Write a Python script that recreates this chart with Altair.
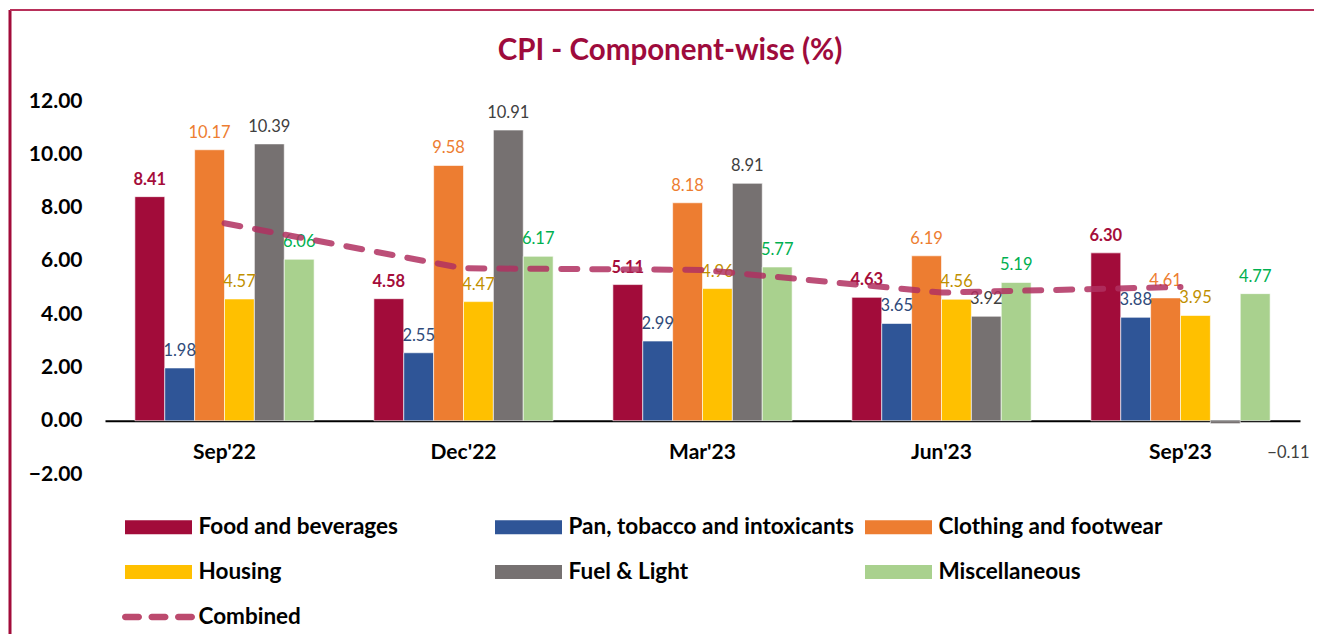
import altair as alt
import pandas as pd

FONT = "Lato"

quarters = ["Sep'22", "Dec'22", "Mar'23", "Jun'23", "Sep'23"]
series = ["Food and beverages", "Pan, tobacco and intoxicants", "Clothing and footwear",
          "Housing", "Fuel & Light", "Miscellaneous"]
combined_name = "Combined"
title_text = "CPI - Component-wise (%)"

food = [8.41, 4.58, 5.11, 4.63, 6.30]
pan = [1.98, 2.55, 2.99, 3.65, 3.88]
clothing = [10.17, 9.58, 8.18, 6.19, 4.61]
housing = [4.57, 4.47, 4.96, 4.56, 3.95]
fuel = [10.39, 10.91, 8.91, 3.92, -0.11]
misc = [6.06, 6.17, 5.77, 5.19, 4.77]
combined = [7.41, 5.72, 5.66, 4.81, 5.02]

bar_colors = ["#A20C3A", "#2F5597", "#ED7D31", "#FFC000", "#767171", "#A9D18E"]
label_colors = ["#A50D3A", "#2F4A7A", "#ED7D31", "#BF9000", "#404040", "#00B050"]
combined_color = "#BC4A6E"

y_ticks = [-2, 0, 2, 4, 6, 8, 10, 12]

values_by_series = [food, pan, clothing, housing, fuel, misc]
rows = []
for s, vals in zip(series, values_by_series):
    for q, v in zip(quarters, vals):
        rows.append({"quarter": q, "series": s, "value": v})
bars_df = pd.DataFrame(rows)
line_df = pd.DataFrame({"quarter": quarters, "value": combined})
legend_df = pd.DataFrame({"series": series + [combined_name]})

# legend symbol shapes (unit paths, scaled by sqrt(symbolSize)/2)
rect_path = "M-1.675,-0.35H1.675V0.35H-1.675Z"
def pill(a, b):
    r = 0.165
    return (f"M{a+r},-{r}H{b-r}A{r},{r} 0 0 1 {b-r},{r}"
            f"H{a+r}A{r},{r} 0 0 1 {a+r},-{r}Z")
dash_path = pill(-1.825, -0.825) + pill(-0.5, 0.5) + pill(0.825, 1.825)

x_scale = alt.Scale(domain=quarters, paddingInner=0.25, paddingOuter=0.125)
y_scale = alt.Scale(domain=[-2, 12], nice=False, zero=False)
fill_scale = alt.Scale(domain=series, range=bar_colors)
color_scale = alt.Scale(domain=series + [combined_name], range=bar_colors + [combined_color])
shape_scale = alt.Scale(domain=series + [combined_name], range=[rect_path] * 6 + [dash_path])

x_enc = alt.X("quarter:N", sort=quarters, scale=x_scale,
              axis=alt.Axis(title=None, orient="bottom", offset=-53.3, labelAngle=0,
                            labelFont=FONT, labelFontSize=21, labelFontWeight="bold",
                            labelColor="black", labelPadding=21, ticks=False,
                            domainColor="black", domainWidth=2))
y_enc = alt.Y("value:Q", scale=y_scale,
              axis=alt.Axis(title=None, values=y_ticks, format=".2f", grid=False,
                            domain=False, ticks=False, labelFont=FONT, labelFontSize=21,
                            labelFontWeight="bold", labelColor="black", labelPadding=23))
xoff = alt.XOffset("series:N", sort=series,
                   scale=alt.Scale(domain=series, paddingInner=0, paddingOuter=0))

bars = alt.Chart(bars_df).mark_bar(stroke="white", strokeWidth=0.6).encode(
    x=x_enc, y=y_enc, xOffset=xoff,
    fill=alt.Fill("series:N", scale=fill_scale, legend=None),
)

layers = [bars]
for s, c in zip(series, label_colors):
    weight = "bold" if s == "Food and beverages" else "normal"
    pos = alt.Chart(bars_df).transform_filter(
        (alt.datum.series == s) & (alt.datum.value >= 0)
    ).mark_text(font=FONT, fontSize=16.5, fontWeight=weight, color=c,
                baseline="bottom", dy=-9).encode(
        x=alt.X("quarter:N", sort=quarters, scale=x_scale),
        y=alt.Y("value:Q", scale=y_scale),
        xOffset=xoff,
        text=alt.Text("value:Q", format=".2f"),
    )
    neg = alt.Chart(bars_df).transform_filter(
        (alt.datum.series == s) & (alt.datum.value < 0)
    ).mark_text(font=FONT, fontSize=16.5, fontWeight=weight, color=c,
                align="left", baseline="middle", dx=42, dy=29).encode(
        x=alt.X("quarter:N", sort=quarters, scale=x_scale),
        y=alt.Y("value:Q", scale=y_scale),
        xOffset=xoff,
        text=alt.Text("value:Q", format=".2f"),
    )
    layers += [pos, neg]

line = alt.Chart(line_df).mark_line(
    color="#B03060", opacity=0.85, strokeWidth=6, strokeDash=[16, 15], strokeCap="round"
).encode(
    x=alt.X("quarter:N", sort=quarters, scale=x_scale),
    y=alt.Y("value:Q", scale=y_scale),
)
layers.append(line)

legend_props = dict(title=None, orient="none", legendX=33.5, legendY=406,
                    direction="horizontal", columns=3, gridAlign="all",
                    columnPadding=10, rowPadding=13, symbolSize=1600,
                    symbolStrokeWidth=0, symbolOpacity=1, labelOffset=20,
                    labelFont=FONT, labelFontSize=22.5, labelFontWeight="bold",
                    labelColor="black", labelLimit=500, padding=0)
legend_pts = alt.Chart(legend_df).mark_point(filled=True, opacity=0).encode(
    color=alt.Color("series:N", scale=color_scale, legend=alt.Legend(**legend_props)),
    shape=alt.Shape("series:N", scale=shape_scale, legend=alt.Legend(**legend_props)),
)
layers.append(legend_pts)

one = pd.DataFrame({"a": [0]})
title_mark = alt.Chart(one).mark_text(
    text=title_text, font=FONT, fontSize=29.5, fontWeight="bold", color="#9E0B3C",
    align="center", baseline="middle").encode(x=alt.value(565), y=alt.value(-50))
frame_left = alt.Chart(one).mark_rule(color="#A20C3A", strokeWidth=3).encode(
    x=alt.value(-95), y=alt.value(-91), y2=alt.value(700))
frame_top = alt.Chart(one).mark_rule(color="#B8305A", strokeWidth=2).encode(
    x=alt.value(-95), x2=alt.value(1400), y=alt.value(-91))
layers += [title_mark, frame_left, frame_top]

chart = alt.layer(*layers).properties(
    width=1195, height=373,
    autosize=alt.AutoSizeParams(type="none"),
    padding={"left": 97, "top": 93, "right": 14, "bottom": 160},
    background="white",
).configure_view(stroke=None)

chart.save("out.html", embed_options={"renderer": "svg", "actions": False})
